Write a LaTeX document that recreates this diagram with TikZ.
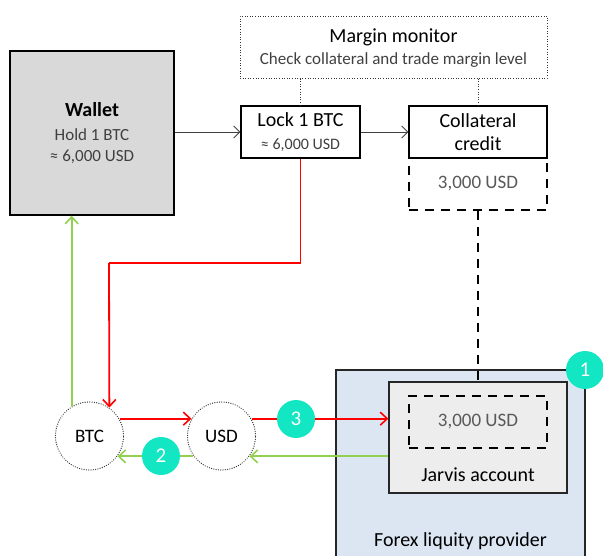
\documentclass[tikz,border=0pt]{standalone}
\usepackage{fontspec}
\setmainfont{Carlito}
\usetikzlibrary{arrows.meta}
\definecolor{redc}{HTML}{FF0000}
\definecolor{greenc}{HTML}{92D050}
\definecolor{badgecol}{HTML}{12E6C3}
\definecolor{walletfill}{HTML}{D9D9D9}
\definecolor{forexfill}{HTML}{DCE6F2}
\definecolor{jarvisfill}{HTML}{EDEDED}
\definecolor{txtgray}{HTML}{595959}
\definecolor{linegray}{HTML}{404040}
\newcommand{\bigtxt}{\fontsize{20}{23}\selectfont}
\newcommand{\smalltxt}{\fontsize{17}{23}\selectfont}
\begin{document}
\begin{tikzpicture}[x=1pt,y=-1pt,
  box/.style={draw=black,line width=1.4pt,inner sep=0pt,align=center,rectangle,font=\bigtxt},
  redline/.style={draw=redc,line width=1.8pt,-{Straight Barb[length=7pt,width=13pt,line width=1.6pt]}},
  greenline/.style={draw=greenc,line width=1.8pt,-{Straight Barb[length=7pt,width=13pt,line width=1.6pt]}},
  plainred/.style={draw=redc,line width=1.8pt},
  blackarrow/.style={draw=linegray,line width=0.9pt,-{Straight Barb[length=6pt,width=12pt,line width=0.9pt]}},
  dotcircle/.style={circle,draw=black!80,line width=1.3pt,dash pattern=on 0.01pt off 2.3pt,line cap=round,minimum size=68pt,inner sep=0pt,font=\fontsize{19}{22}\selectfont},
  badge/.style={circle,fill=badgecol,minimum size=38pt,inner sep=0pt,text=white,font=\fontsize{21}{22}\selectfont},
  dashbox/.style={draw=black,line width=1.4pt,dash pattern=on 9pt off 7pt,inner sep=0pt,rectangle,text=txtgray,font=\fontsize{19}{22}\selectfont},
  plaintext/.style={inner sep=0pt,font=\bigtxt}
]
\useasboundingbox (0,0) rectangle (603,556);
\clip (0,0) rectangle (603,556);

% margin monitor
\node[draw=black!80,line width=0.6pt,dotted,rectangle,minimum width=307pt,minimum height=62pt,inner sep=0pt] (monitor) at (393.5,47) {};
\node[plaintext] (montitle) at (393.5,37) {Margin monitor};
\node[plaintext,text=linegray,font=\smalltxt] (monsub) at (393.5,60) {Check collateral and trade margin level};

% wallet
\node[box,fill=walletfill,minimum width=164pt,minimum height=164pt] (wallet) at (92,133)
  {\textbf{Wallet}\\[1pt]{\smalltxt\color{linegray}Hold 1 BTC}\\[-2pt]{\smalltxt\color{linegray}≈ 6,000 USD}};

% lock
\node[box,fill=white,minimum width=119pt,minimum height=52pt] (lock) at (300.5,132)
  {Lock 1 BTC\\{\fontsize{16}{20}\selectfont\color{linegray}≈ 6,000 USD}};

% collateral
\node[dashbox,minimum width=138pt,minimum height=52pt] (collbal) at (478,184) {3,000 USD};
\node[box,fill=white,minimum width=138pt,minimum height=52pt] (coll) at (478,132)
  {Collateral\\credit};

% forex provider
\node[draw=black!85,line width=1.2pt,fill=forexfill,rectangle,minimum width=249pt,minimum height=230pt,inner sep=0pt] (forex) at (460.5,485) {};
\node[plaintext] (forexlbl) at (460.5,541) {Forex liquity provider};

% jarvis account
\node[draw=black!85,line width=1.2pt,fill=jarvisfill,rectangle,minimum width=178pt,minimum height=111pt,inner sep=0pt] (jarvis) at (478,437.5) {};
\node[dashbox,minimum width=138pt,minimum height=52pt] (jbal) at (478,422) {3,000 USD};
\node[plaintext] (jarvislbl) at (478,475) {Jarvis account};

% circles
\node[dotcircle] (btc) at (89.5,436) {BTC};
\node[dotcircle] (usd) at (221.5,436) {USD};

% dotted links to monitor
\draw[draw=black!80,line width=0.6pt,dotted] (lock.north) -- (lock.north |- monitor.south);
\draw[draw=black!80,line width=0.6pt,dotted] (coll.north) -- (coll.north |- monitor.south);

% black arrows
\draw[blackarrow] (wallet.east |- lock.west) -- (lock.west);
\draw[blackarrow] (lock.east) -- (coll.west);

% dashed link collateral - jarvis
\draw[draw=black,line width=1.4pt,dash pattern=on 9pt off 7pt] (collbal.south) -- (jarvis.north);

% red flows
\coordinate (bend) at (109,263);
\draw[plainred] (lock.south) |- (bend);
\draw[redline] (bend) -- (btc.55);
\draw[redline] (btc.30) -- (usd.150);
\draw[redline] (usd.30) -- (jarvis.west |- usd.30);

% green flows
\draw[greenline] (jarvis.west |- usd.-36) -- (usd.-36);
\draw[greenline] (usd.216) -- (btc.-36);
\draw[greenline] (btc.121) -- (btc.121 |- wallet.south);

% badges
\node[badge] (b1) at (585,370) {1};
\node[badge] (b2) at (161,456) {2};
\node[badge] (b3) at (296,419) {3};
\end{tikzpicture}
\end{document}
